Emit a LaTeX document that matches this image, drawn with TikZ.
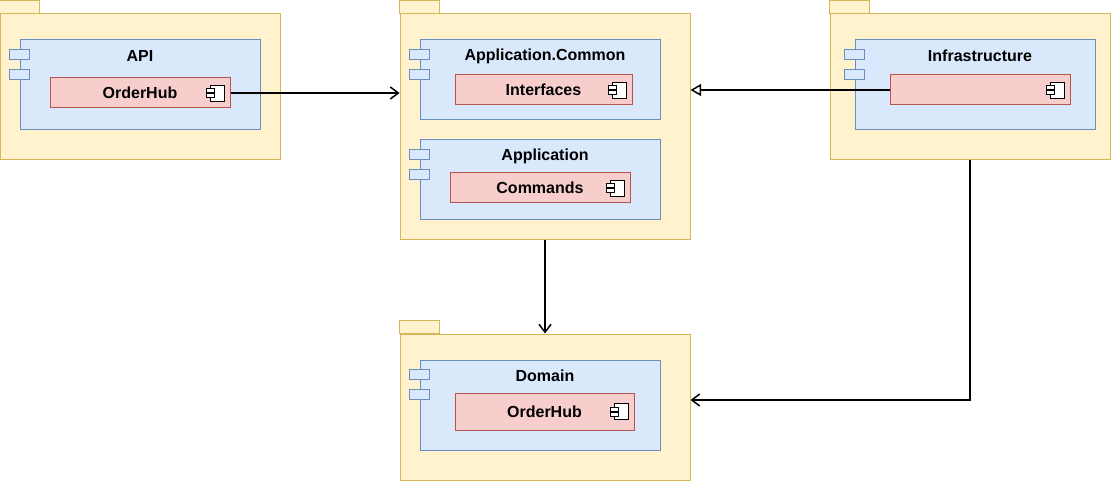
\documentclass[tikz,border=0pt]{standalone}
\usepackage{fontspec}
\setmainfont{Liberation Sans}
\usetikzlibrary{positioning,arrows.meta}
\definecolor{pkgfill}{RGB}{255,242,204}
\definecolor{pkgline}{RGB}{214,182,86}
\definecolor{cmpfill}{RGB}{218,232,252}
\definecolor{cmpline}{RGB}{108,142,191}
\definecolor{clsfill}{RGB}{248,206,204}
\definecolor{clsline}{RGB}{184,84,80}
\tikzset{every picture/.style={line width=0.75pt}}
\tikzset{
  pkg/.style={draw=pkgline,fill=pkgfill,inner sep=0pt},
  cmp/.style={draw=cmpline,fill=cmpfill,inner sep=0pt},
  cls/.style={draw=clsline,fill=clsfill,inner sep=0pt,font=\bfseries\fontsize{12}{14}\selectfont},
  ttl/.style={font=\bfseries\fontsize{12}{14}\selectfont,inner sep=0pt},
  dep/.style={-{Straight Barb[length=6pt,width=9pt]},line width=1.1pt},
  impl/.style={-{Triangle[open,length=8pt,width=9pt]},line width=1.1pt},
}
% package tab above the body
\newcommand{\pkgtab}[1]{\draw[pkgline,fill=pkgfill] (#1.north west) rectangle ++(40,-13);}
% the two little tabs on a component's left side
\newcommand{\cmptabs}[1]{
  \draw[cmpline,fill=cmpfill] ([shift={(-10,10)}]#1.north west) rectangle ++(20,10);
  \draw[cmpline,fill=cmpfill] ([shift={(-10,30)}]#1.north west) rectangle ++(20,10);}
% component icon at right end of a class box
\newcommand{\cmpicon}[1]{
  \draw[black,fill=white,line width=0.6pt] ([shift={(-20,8)}]#1.east) rectangle ++(14,-16);
  \draw[black,fill=white,line width=0.6pt] ([shift={(-24,4.5)}]#1.east) rectangle ++(8,-4);
  \draw[black,fill=white,line width=0.6pt] ([shift={(-24,-0.5)}]#1.east) rectangle ++(8,-4);}

\begin{document}
\begin{tikzpicture}[x=0.75pt,y=0.75pt,yscale=-1,xscale=1]
\useasboundingbox (0,0) rectangle (1111,481);

% API
\node[pkg,minimum width=210pt,minimum height=109.5pt] (api) at (140,87) {};
\pkgtab{api}
\node[cmp,minimum width=180pt,minimum height=67.5pt] (apic) at (140,85) {};
\cmptabs{apic}
\node[ttl] (apit) at (140,56) {API};
\node[cls,minimum width=135pt,minimum height=22.5pt] (apihub) at (140,93) {OrderHub};
\cmpicon{apihub}

% Application
\node[pkg,minimum width=217.5pt,minimum height=169.5pt] (app) at (545,127) {};
\pkgtab{app}
\node[cmp,minimum width=180pt,minimum height=60pt] (appc) at (540,80) {};
\cmptabs{appc}
\node[ttl] (appct) at (545,56) {Application.Common};
\node[cls,minimum width=132.75pt,minimum height=22.5pt] (iface) at (543.5,90) {Interfaces};
\cmpicon{iface}
\node[cmp,minimum width=180pt,minimum height=60pt] (appa) at (540,180) {};
\cmptabs{appa}
\node[ttl] (appat) at (545,156) {Application};
\node[cls,minimum width=135pt,minimum height=22.5pt] (cmds) at (540,188) {Commands};
\cmpicon{cmds}

% Infrastructure
\node[pkg,minimum width=210pt,minimum height=109.5pt] (inf) at (970,87) {};
\pkgtab{inf}
\node[cmp,minimum width=180pt,minimum height=67.5pt] (infc) at (975,85) {};
\cmptabs{infc}
\node[ttl] (inft) at (980,56) {Infrastructure};
\node[cls,minimum width=135pt,minimum height=22.5pt] (infcls) at (980,90) {};
\cmpicon{infcls}

% Domain
\node[pkg,minimum width=217.5pt,minimum height=109.5pt] (dom) at (545,407) {};
\pkgtab{dom}
\node[cmp,minimum width=180pt,minimum height=67.5pt] (domc) at (540,405) {};
\cmptabs{domc}
\node[ttl] (domt) at (545,376) {Domain};
\node[cls,minimum width=134.25pt,minimum height=27.75pt] (domhub) at (544.5,411.5) {OrderHub};
\cmpicon{domhub}

% connectors
\coordinate (bend) at (970,400);
\draw[dep] (apihub.east) -- (apihub.east -| app.west);
\draw[impl] (infcls.west) -- (infcls.west -| app.east);
\draw[dep] (app.south) -- (dom.north);
\draw[dep] (inf.south) -- (bend) -- (bend -| dom.east);
\end{tikzpicture}
\end{document}
